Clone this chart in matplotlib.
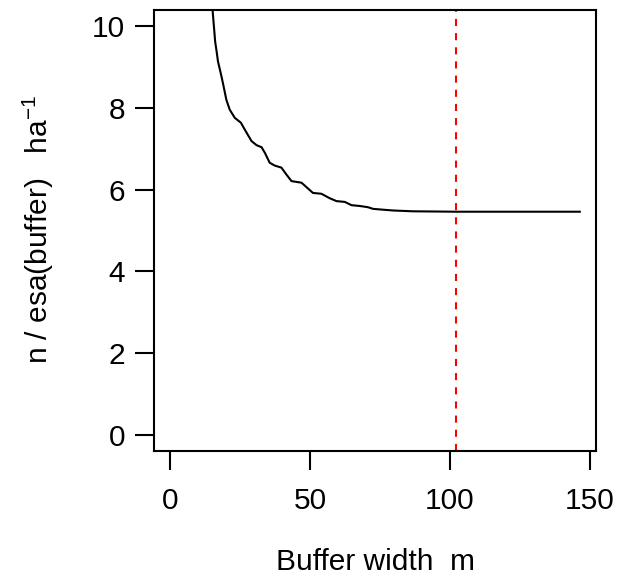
import matplotlib
matplotlib.use("Agg")
import matplotlib.pyplot as plt

plt.rcParams['font.family'] = ['Liberation Sans', 'DejaVu Sans']
plt.rcParams['mathtext.fontset'] = 'custom'
plt.rcParams['mathtext.rm'] = 'Liberation Sans'
plt.rcParams['mathtext.it'] = 'Liberation Sans'

# data
buffer_width = [14.6, 15.0, 16.0, 16.5, 17.0, 18.0, 18.8, 20.0, 21.2, 23.0, 25.2, 26.6, 29.0,
                30.8, 32.6, 33.8, 35.5, 37.3, 39.7, 41.5, 43.3, 46.9, 48.7, 51.0,
                54.0, 57.0, 59.4, 62.4, 64.8, 67.8, 70.7, 72.5, 76.0, 79.7, 86.8,
                95.0, 102.3, 120.0, 146.5]
density = [11.2, 10.45, 9.62, 9.39, 9.14, 8.85, 8.6, 8.2, 7.96, 7.76, 7.64, 7.47, 7.19,
           7.09, 7.04, 6.90, 6.66, 6.59, 6.54, 6.37, 6.21, 6.17, 6.06, 5.92,
           5.90, 5.79, 5.72, 5.70, 5.62, 5.60, 5.57, 5.53, 5.51, 5.49, 5.47,
           5.465, 5.46, 5.46, 5.46]
truncation = 102.3
x_ticks = [0, 50, 100, 150]
y_ticks = [0, 2, 4, 6, 8, 10]

W, H = 619, 580
fig = plt.figure(figsize=(W / 100, H / 100), dpi=100)
ax = fig.add_axes([154 / W, 1 - 451 / H, (596 - 154) / W, (451 - 10) / H])

lw = 1.5
fs = 21.5
ax.plot(buffer_width, density, color='black', linewidth=lw, solid_joinstyle='round')
ax.axvline(truncation, color='red', linewidth=lw, linestyle=(0, (3.4, 3.4)))

ax.set_xlim(-5.9, 152.3)
ax.set_ylim(-0.4, 10.4)
ax.set_xticks(x_ticks)
ax.set_yticks(y_ticks)
ax.set_xticklabels([str(v) for v in x_ticks])
ax.set_yticklabels([str(v) for v in y_ticks])
ax.tick_params(axis='both', direction='out', length=13.7, width=lw, labelsize=fs, color='black')
ax.tick_params(axis='x', pad=12)
ax.tick_params(axis='y', pad=7)
for s in ax.spines.values():
    s.set_linewidth(lw)
    s.set_color('black')

fig.text(376 / W, 1 - 562 / H, 'Buffer width  m', ha='center', va='center', fontsize=fs)
fig.text(38 / W, 1 - 229 / H, r'n / esa(buffer)   ha$^{-1}$', ha='center', va='center',
         rotation=90, fontsize=fs)

fig.savefig('out.png', dpi=100)
